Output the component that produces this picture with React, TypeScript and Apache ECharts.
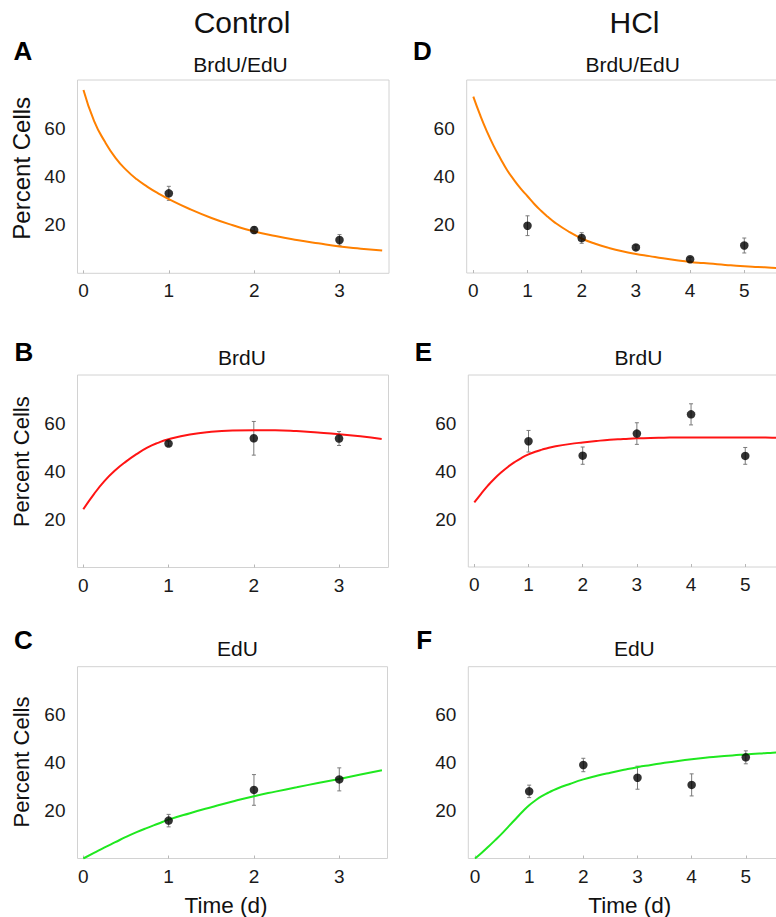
import React, { useEffect, useRef } from "react";
import * as echarts from "echarts";

const FONT = "'Liberation Sans', Arial, Helvetica, sans-serif";

// ---- tick labels ----
const controlTicks = [0, 1, 2, 3];
const hclTicks = [0, 1, 2, 3, 4, 5];
const yTicks = [20, 40, 60];

// ---- measured points (mean, error) ----
const controlDays = [1, 2, 3];
const hclDays = [1, 2, 3, 4, 5];

const ctrlBrdUEdUMean = [33.1, 17.9, 13.8];
const ctrlBrdUEdUErr = [2.9, 1.3, 2.2];
const ctrlBrdUMean = [51.5, 53.7, 53.6];
const ctrlBrdUErr = [1.0, 7.0, 2.9];
const ctrlEdUMean = [15.8, 28.6, 33.0];
const ctrlEdUErr = [2.6, 6.4, 4.8];

const hclBrdUEdUMean = [19.6, 14.5, 10.6, 5.7, 11.4];
const hclBrdUEdUErr = [4.1, 2.2, 1.0, 0.8, 3.1];
const hclBrdUMean = [52.4, 46.4, 55.6, 63.6, 46.3];
const hclBrdUErr = [4.5, 3.6, 4.5, 4.4, 3.5];
const hclEdUMean = [28.0, 39.0, 33.7, 30.7, 42.2];
const hclEdUErr = [2.6, 2.8, 4.8, 4.6, 2.7];

// ---- model curves ----
const ctrlFitTime = [0, 0.125, 0.25, 0.375, 0.5, 0.625, 0.75, 0.875, 1, 1.25, 1.5, 1.75, 2, 2.25, 2.5, 2.75, 3, 3.25, 3.5];
const ctrlBrdUEdUFit = [75.9, 63.0, 54.5, 47.8, 42.8, 38.9, 35.8, 33.1, 30.7, 26.5, 22.9, 19.9, 17.3, 15.4, 13.8, 12.4, 11.1, 10.2, 9.4];
const ctrlBrdUFit = [24.2, 30.5, 36.0, 40.4, 44.0, 47.1, 49.8, 51.8, 53.3, 55.3, 56.4, 56.9, 57.0, 57.0, 56.7, 56.1, 55.4, 54.5, 53.4];
const ctrlEdUFit = [0, 2.3, 4.6, 6.8, 9.0, 11.0, 12.8, 14.5, 16.2, 18.9, 21.4, 23.8, 26.0, 27.9, 29.7, 31.5, 33.2, 35.0, 36.8];

const hclFitTime = [0, 0.125, 0.25, 0.375, 0.5, 0.625, 0.75, 0.875, 1, 1.125, 1.25, 1.375, 1.5, 1.75, 2, 2.25, 2.5, 2.75, 3, 3.25, 3.5, 3.75, 4, 4.25, 4.5, 4.75, 5, 5.25, 5.5, 5.75];
const hclBrdUEdUFit = [73.1, 65.5, 58.7, 52.7, 47.5, 42.6, 38.6, 35.0, 31.8, 28.6, 25.8, 23.3, 21.0, 17.3, 14.3, 12.1, 10.4, 9.0, 7.9, 7.0, 6.1, 5.3, 4.6, 4.1, 3.6, 3.2, 2.8, 2.5, 2.2, 1.9];
const hclBrdUFit = [26.9, 30.5, 33.9, 36.9, 39.5, 41.8, 43.8, 45.5, 46.9, 48.0, 48.9, 49.7, 50.3, 51.2, 51.9, 52.5, 53.0, 53.3, 53.6, 53.8, 53.9, 54.0, 54.0, 54.0, 54.0, 54.0, 54.0, 54.0, 53.9, 53.9];
const hclEdUFit = [0, 2.4, 5.0, 7.7, 10.5, 13.5, 16.5, 19.5, 22.2, 24.4, 26.2, 27.7, 29.0, 31.1, 33.0, 34.5, 35.8, 37.0, 38.1, 39.0, 39.9, 40.7, 41.4, 42.0, 42.5, 43.0, 43.4, 43.8, 44.1, 44.4];

const ORANGE = "#ff8000";
const RED = "#ff1414";
const GREEN = "#1fe81f";

type Panel = {
  grid: { left: number; top: number; width: number; height: number };
  xMin: number;
  xMax: number;
  ticks: number[];
  days: number[];
  mean: number[];
  err: number[];
  fitT: number[];
  fit: number[];
  color: string;
};

const panels: Panel[] = [
  { grid: { left: 77.5, top: 80, width: 311.5, height: 193.3 }, xMin: -0.07, xMax: 3.58, ticks: controlTicks, days: controlDays, mean: ctrlBrdUEdUMean, err: ctrlBrdUEdUErr, fitT: ctrlFitTime, fit: ctrlBrdUEdUFit, color: ORANGE },
  { grid: { left: 77.5, top: 375, width: 311, height: 192.5 }, xMin: -0.068, xMax: 3.58, ticks: controlTicks, days: controlDays, mean: ctrlBrdUMean, err: ctrlBrdUErr, fitT: ctrlFitTime, fit: ctrlBrdUFit, color: RED },
  { grid: { left: 77.5, top: 666.7, width: 310, height: 191.8 }, xMin: -0.068, xMax: 3.565, ticks: controlTicks, days: controlDays, mean: ctrlEdUMean, err: ctrlEdUErr, fitT: ctrlFitTime, fit: ctrlEdUFit, color: GREEN },
  { grid: { left: 466.7, top: 80, width: 312, height: 193 }, xMin: -0.122, xMax: 5.635, ticks: hclTicks, days: hclDays, mean: hclBrdUEdUMean, err: hclBrdUEdUErr, fitT: hclFitTime, fit: hclBrdUEdUFit, color: ORANGE },
  { grid: { left: 468.3, top: 375, width: 310, height: 192 }, xMin: -0.111, xMax: 5.61, ticks: hclTicks, days: hclDays, mean: hclBrdUMean, err: hclBrdUErr, fitT: hclFitTime, fit: hclBrdUFit, color: RED },
  { grid: { left: 468.3, top: 666.7, width: 310, height: 191.8 }, xMin: -0.124, xMax: 5.6, ticks: hclTicks, days: hclDays, mean: hclEdUMean, err: hclEdUErr, fitT: hclFitTime, fit: hclEdUFit, color: GREEN },
];

function txt(text: string, x: number, y: number, size: number, bold = false, rotation = 0) {
  return {
    type: "text",
    x,
    y,
    rotation,
    silent: true,
    style: {
      text,
      fontSize: size,
      fontFamily: FONT,
      fontWeight: bold ? "bold" : "normal",
      fill: bold ? "#000" : "#111",
      align: "center",
      verticalAlign: "middle",
      textAlign: "center",
      textVerticalAlign: "middle",
    },
  };
}

export default function App() {
  const ref = useRef<HTMLDivElement>(null);

  useEffect(() => {
    if (!ref.current) return;
    const chart = echarts.init(ref.current, undefined, { renderer: "svg" });

    const grids = panels.map((p) => ({
      ...p.grid,
      show: true,
      borderColor: "#d2d2d2",
      borderWidth: 1,
      backgroundColor: "transparent",
      containLabel: false,
      outerBoundsMode: "none",
    }));

    const labelStyle = { fontSize: 19, color: "#1a1a1a", fontFamily: FONT };

    const xAxes = panels.map((p, i) => ({
      type: "value",
      gridIndex: i,
      min: p.xMin,
      max: p.xMax,
      axisLine: { show: false },
      splitLine: { show: false },
      axisTick: { show: true, inside: true, length: 3, lineStyle: { color: "#b8b8b8" }, customValues: p.ticks },
      axisLabel: { ...labelStyle, margin: 8, customValues: p.ticks },
    }));

    const yAxes = panels.map((p, i) => ({
      type: "value",
      gridIndex: i,
      min: 0,
      max: 80,
      axisLine: { show: false },
      splitLine: { show: false },
      axisTick: { show: false },
      axisLabel: { ...labelStyle, margin: 12, customValues: yTicks },
    }));

    const series: any[] = [];
    panels.forEach((p, i) => {
      series.push({
        type: "custom",
        xAxisIndex: i,
        yAxisIndex: i,
        z: 2,
        data: p.days.map((d, k) => [d, p.mean[k] - p.err[k], p.mean[k] + p.err[k]]),
        encode: { x: 0, y: [1, 2] },
        renderItem: (params: any, api: any) => {
          const x = api.value(0);
          const lo = api.coord([x, api.value(1)]);
          const hi = api.coord([x, api.value(2)]);
          const w = 2;
          const st = { stroke: "#7a7a7a", lineWidth: 1 };
          return {
            type: "group",
            children: [
              { type: "line", shape: { x1: lo[0], y1: lo[1], x2: hi[0], y2: hi[1] }, style: st },
              { type: "line", shape: { x1: lo[0] - w, y1: lo[1], x2: lo[0] + w, y2: lo[1] }, style: st },
              { type: "line", shape: { x1: hi[0] - w, y1: hi[1], x2: hi[0] + w, y2: hi[1] }, style: st },
            ],
          };
        },
      });
      series.push({
        type: "line",
        xAxisIndex: i,
        yAxisIndex: i,
        z: 3,
        smooth: 0.5,
        showSymbol: false,
        clip: true,
        lineStyle: { color: p.color, width: 2 },
        data: p.fitT.map((t, k) => [t, p.fit[k]]),
      });
      series.push({
        type: "scatter",
        xAxisIndex: i,
        yAxisIndex: i,
        z: 4,
        symbol: "circle",
        symbolSize: 8.5,
        itemStyle: { color: "#000" },
        data: p.days.map((d, k) => [d, p.mean[k]]),
      });
    });

    const graphics = [
      txt("Control", 242, 22, 30),
      txt("HCl", 634.5, 22, 30),
      txt("A", 23, 51, 26, true),
      txt("D", 422.3, 51, 26, true),
      txt("B", 24, 351.5, 26, true),
      txt("E", 423.5, 351.5, 26, true),
      txt("C", 23.3, 639.7, 26, true),
      txt("F", 424.3, 639.7, 26, true),
      txt("BrdU/EdU", 240.5, 64, 21),
      txt("BrdU/EdU", 632.7, 64, 21),
      txt("BrdU", 242, 357.5, 21),
      txt("BrdU", 638.5, 357.5, 21),
      txt("EdU", 237.5, 648, 21),
      txt("EdU", 634.3, 648, 21),
      txt("Percent Cells", 21.5, 168.3, 24, false, Math.PI / 2),
      txt("Percent Cells", 21.5, 461.7, 22, false, Math.PI / 2),
      txt("Percent Cells", 21.5, 762, 22, false, Math.PI / 2),
      txt("Time (d)", 226, 905.5, 22.5),
      txt("Time (d)", 629.7, 905.5, 22.5),
    ];

    chart.setOption({
      animation: false,
      backgroundColor: "#fff",
      grid: grids,
      xAxis: xAxes,
      yAxis: yAxes,
      series,
      graphic: { elements: graphics },
    } as any);

    return () => chart.dispose();
  }, []);

  return (
    <div
      ref={ref}
      style={{ position: "absolute", left: 0, top: 0, width: 776, height: 917, background: "#fff" }}
    />
  );
}
